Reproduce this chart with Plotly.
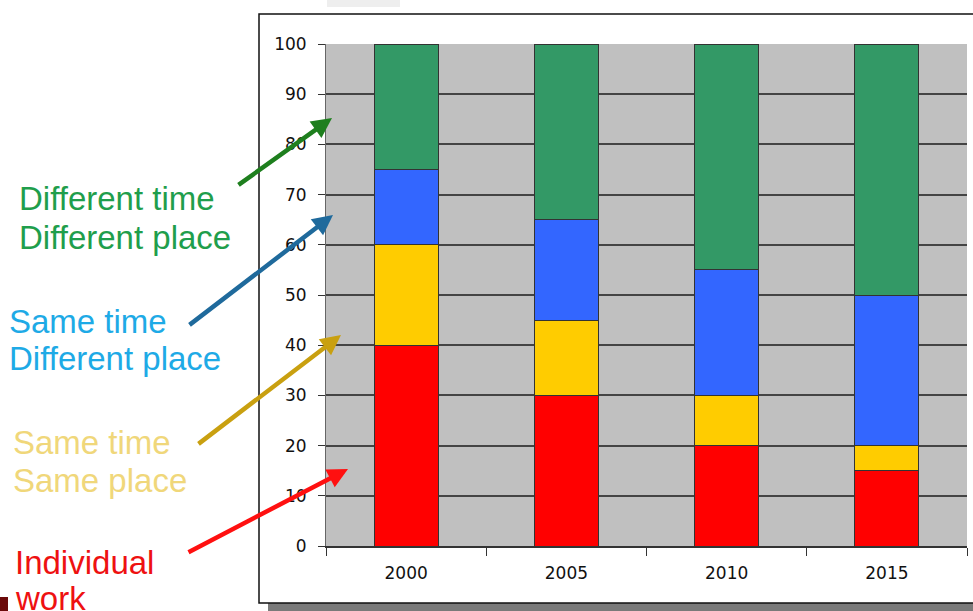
import plotly.graph_objects as go

years = ["2000", "2005", "2010", "2015"]
individual = [40, 30, 20, 15]
same_time_same_place = [20, 15, 10, 5]
same_time_diff_place = [15, 20, 25, 30]
diff_time_diff_place = [25, 35, 45, 50]

series = [
    ("Individual work", individual, "#FF0000"),
    ("Same time Same place", same_time_same_place, "#FFCC00"),
    ("Same time Different place", same_time_diff_place, "#3366FF"),
    ("Different time Different place", diff_time_diff_place, "#339966"),
]

W, H = 973, 611
L, R, T, B = 326, 967, 44, 546


def px(x):
    return (x - L) / (R - L)


def py(y):
    return (B - y) / (B - T)


fig = go.Figure()
for name, vals, col in series:
    fig.add_trace(go.Bar(x=years, y=vals, name=name, marker=dict(color=col, line=dict(color="#333333", width=1))))

shapes = [
    dict(type="rect", xref="paper", yref="paper", x0=px(268), x1=px(980), y0=py(611), y1=py(603),
         fillcolor="#7a7a7a", line=dict(width=0), layer="below"),
    dict(type="rect", xref="paper", yref="paper", x0=px(259), x1=px(985), y0=py(603), y1=py(14),
         fillcolor="rgba(0,0,0,0)", line=dict(color="#111111", width=1.5), layer="below"),
    dict(type="rect", xref="paper", yref="paper", x0=px(0), x1=px(8), y0=py(611), y1=py(597),
         fillcolor="#6B0A0A", line=dict(width=0)),
    dict(type="rect", xref="paper", yref="paper", x0=px(327), x1=px(400), y0=py(7), y1=py(0),
         fillcolor="#EEEEEE", line=dict(width=0)),
]

font_family = "Liberation Sans, Arial, sans-serif"
tick_family = "DejaVu Sans, Verdana, sans-serif"
labels = [
    ("Different time", 17, 199, "#1F9E4C"),
    ("Different place", 17, 237, "#1F9E4C"),
    ("Same time", 7, 321, "#1EAAE6"),
    ("Different place", 7, 358, "#1EAAE6"),
    ("Same time", 11, 442, "#F0D77A"),
    ("Same place", 11, 480, "#F0D77A"),
    ("Individual", 13, 562, "#EE1111"),
    ("work", 13, 598, "#EE1111"),
]
annotations = []
for txt, x, y, col in labels:
    annotations.append(dict(text=txt, xref="paper", yref="paper", x=px(x), y=py(y),
                            xanchor="left", yanchor="middle", showarrow=False,
                            font=dict(family=font_family, size=33, color=col)))

arrows = [
    ((237, 186), (332, 118), "#1E7F1E"),
    ((188, 326), (333, 215), "#1F6A9C"),
    ((197, 445), (341, 335), "#C9A010"),
    ((187, 553), (348, 469), "#FF1010"),
]
for (tx, ty), (hx, hy), col in arrows:
    annotations.append(dict(text="", xref="paper", yref="paper", x=px(hx), y=py(hy),
                            ax=tx - hx, ay=ty - hy, showarrow=True, arrowhead=2,
                            arrowsize=0.9, arrowwidth=4.5, arrowcolor=col))

fig.update_layout(
    width=W, height=H,
    margin=dict(l=L, r=W - R, t=T, b=H - B, pad=0),
    barmode="stack", bargap=0.6,
    showlegend=False,
    paper_bgcolor="white", plot_bgcolor="#C0C0C0",
    shapes=shapes, annotations=annotations,
    font=dict(family=tick_family, size=17, color="#111111"),
)
fig.update_xaxes(type="category", showgrid=False, showline=True, linecolor="#333333", linewidth=1.5,
                 ticks="outside", tickson="boundaries", ticklen=8, tickcolor="#333333",
                 ticklabelstandoff=11, tickfont=dict(family=tick_family, size=17))
fig.update_yaxes(range=[0, 100], dtick=10, showgrid=True, gridcolor="#444444", gridwidth=1.5,
                 zeroline=False, showline=True, linecolor="#666666", linewidth=1,
                 ticks="outside", ticklen=7, tickcolor="#333333", ticklabelstandoff=8,
                 tickfont=dict(family=tick_family, size=17))

fig.write_html("out.html")
